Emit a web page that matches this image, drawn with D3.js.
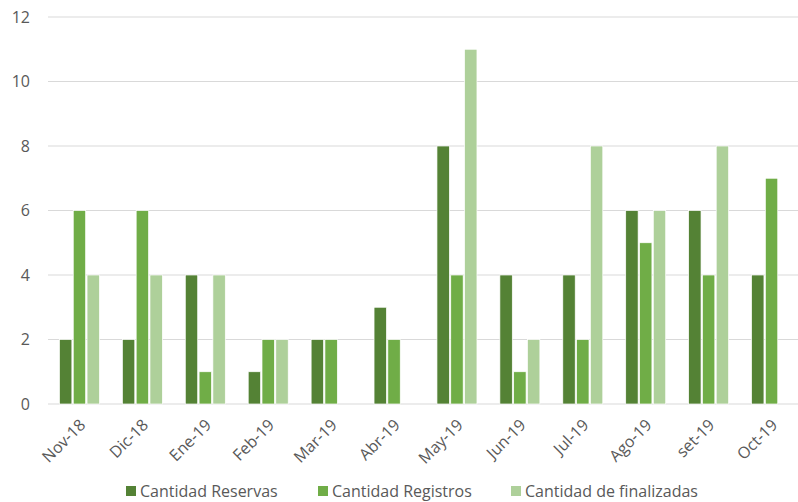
<!DOCTYPE html>
<html><head><meta charset="utf-8">
<script src="https://cdn.jsdelivr.net/npm/d3@7"></script>
<style>body{margin:0;background:#fff}svg text{font-family:"Open Sans",sans-serif;fill:#595959}</style>
</head><body><svg id="c" width="798" height="502"></svg>
<script>
const categories = ["Nov-18","Dic-18","Ene-19","Feb-19","Mar-19","Abr-19","May-19","Jun-19","Jul-19","Ago-19","set-19","Oct-19"];
const seriesNames = ["Cantidad Reservas","Cantidad Registros","Cantidad de finalizadas"];
const reservas = [2,2,4,1,2,3,8,4,4,6,6,4];
const registros = [6,6,1,2,2,2,4,1,2,5,4,7];
const finalizadas = [4,4,4,2,0,0,11,2,8,6,8,0];
const yTicks = [0,2,4,6,8,10,12];
const colors = ["#548235","#70AD47","#AED09A"];

(function(){
const series = [reservas, registros, finalizadas];
const svg = d3.select("#c");
const mLeft = 48, mRight = 803, mTop = 17, mBottom = 404;
const x = d3.scaleBand().domain(categories).range([mLeft, mRight]).paddingInner(0).paddingOuter(0);
const y = d3.scaleLinear().domain([0,12]).range([mBottom, mTop]);
const gw = 40;
const x1 = d3.scaleBand().domain(d3.range(3)).range([0, gw]).paddingInner(0.1);
const groupOffset = (x.bandwidth() - gw) / 2;

svg.append("g").selectAll("line").data(yTicks).join("line")
  .attr("x1", mLeft).attr("x2", 798)
  .attr("y1", d => y(d)).attr("y2", d => y(d))
  .attr("stroke", "#D9D9D9").attr("stroke-width", 1);

svg.append("g").selectAll("text").data(yTicks).join("text")
  .attr("x", 30).attr("y", d => y(d)).attr("dy", "0.35em")
  .attr("text-anchor", "end").attr("font-size", 16).text(d => d);

series.forEach((s, i) => {
  svg.append("g").selectAll("rect").data(s.map((v, j) => ({v, c: categories[j]})).filter(d => d.v > 0)).join("rect")
    .attr("x", d => x(d.c) + groupOffset + x1(i))
    .attr("width", x1.bandwidth())
    .attr("y", d => y(d.v))
    .attr("height", d => y(0) - y(d.v))
    .attr("fill", colors[i]).attr("stroke", "#fff").attr("stroke-width", 0.7);
});

svg.append("g").selectAll("text").data(categories).join("text")
  .attr("transform", d => `translate(${x(d) + x.bandwidth()/2 + 3},${mBottom + 18}) rotate(-45)`)
  .attr("text-anchor", "end").attr("dy", "0.35em").attr("font-size", 16).text(d => d);

const legX = [126, 318, 511];
const lg = svg.append("g");
seriesNames.forEach((n, i) => {
  lg.append("rect").attr("x", legX[i]).attr("y", 486).attr("width", 10).attr("height", 10).attr("fill", colors[i]);
  lg.append("text").attr("x", legX[i] + 14).attr("y", 491).attr("dy", "0.35em").attr("font-size", 16).text(n);
});
})();
</script></body></html>
